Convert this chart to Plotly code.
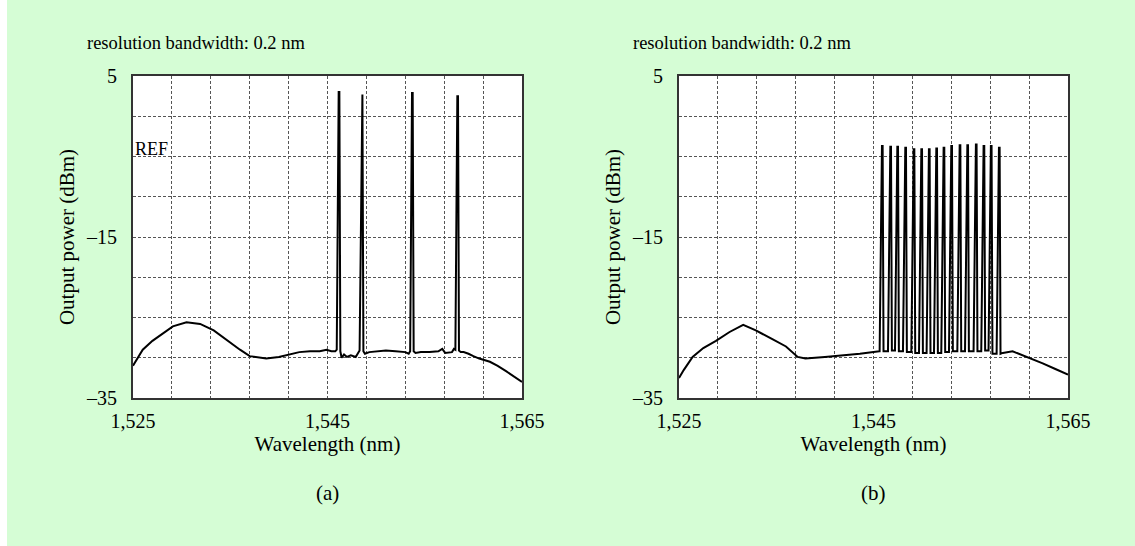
import plotly.graph_objects as go

# ---------------- data ----------------
# (a) four-channel spectrum
wl_a = [1525.0, 1525.5, 1526.0, 1527.0, 1527.8, 1529.1, 1530.5, 1531.9, 1533.3, 1534.6,
        1536.0, 1537.0, 1538.7, 1540.0, 1540.8, 1542.1, 1543.2, 1544.2, 1544.9, 1545.4,
        1545.8, 1545.95, 1546.15, 1546.22, 1546.32, 1546.45, 1546.7, 1547.0, 1547.4, 1547.9,
        1548.3, 1548.52, 1548.59, 1548.69, 1548.85, 1549.3, 1550.0, 1551.0, 1552.0, 1553.0,
        1553.35, 1553.5, 1553.69, 1553.76, 1553.86, 1554.05, 1554.6, 1555.5, 1556.4, 1556.8,
        1557.1, 1557.8, 1558.0, 1558.15, 1558.35, 1558.42, 1558.52, 1558.7, 1559.0, 1559.5,
        1560.0, 1560.6, 1561.7, 1562.5, 1563.4, 1564.2, 1565.0]
db_a = [-31.0, -30.0, -29.0, -27.9, -27.2, -26.1, -25.6, -25.8, -26.6, -27.8,
        -29.0, -29.8, -30.1, -29.9, -29.7, -29.3, -29.2, -29.2, -29.0, -29.2,
        -29.2, -29.0, 3.0, 3.0, -29.2, -30.0, -29.6, -29.9, -29.7, -29.9,
        -29.1, 2.7, 2.7, -29.2, -29.5, -29.3, -29.2, -29.1, -29.2, -29.3,
        -29.5, -29.2, 2.9, 2.9, -29.2, -29.4, -29.3, -29.3, -29.2, -28.9,
        -29.4, -29.3, -28.9, -29.0, 2.5, 2.5, -29.1, -29.3, -29.3, -29.5,
        -29.8, -30.1, -30.5, -31.0, -31.7, -32.4, -33.0]

# (b) ASE part before and after the 16 channels
ase_b_left_wl = [1525.0, 1525.5, 1526.4, 1527.5, 1528.8, 1530.2, 1531.6, 1532.9, 1534.6,
                 1536.0, 1537.2, 1538.0, 1540.0, 1542.0, 1543.6, 1545.6]
ase_b_left_db = [-32.5, -31.5, -29.9, -28.8, -27.9, -26.8, -25.9, -26.6, -27.7,
                 -28.6, -29.9, -30.1, -29.9, -29.7, -29.5, -29.2]
ch_b_wl = [1545.87, 1546.73, 1547.45, 1548.27, 1549.13, 1549.92, 1550.70, 1551.46,
           1552.21, 1553.00, 1553.86, 1554.65, 1555.53, 1556.32, 1557.07, 1557.90]
ch_b_peak = [-3.7, -3.8, -3.8, -3.9, -4.1, -4.1, -4.1, -4.0,
             -3.9, -3.7, -3.6, -3.6, -3.5, -3.7, -3.7, -3.9]
ch_b_floor = [-29.2, -29.1, -29.2, -29.3, -29.4, -29.4, -29.4, -29.4,
              -29.3, -29.2, -29.2, -29.2, -29.2, -29.1, -29.5, -29.5]
ase_b_right_wl = [1558.3, 1559.3, 1560.4, 1561.4, 1562.4, 1563.7, 1565.0]
ase_b_right_db = [-29.4, -29.2, -29.7, -30.2, -30.7, -31.4, -32.1]

x_tickvals = [1525, 1545, 1565]
x_ticktext = ["1,525", "1,545", "1,565"]
y_tickvals = [-35, -15, 5]
y_ticktext = ["\u201335", "\u201315", "5"]

# ---------------- build (b) polyline ----------------
RISE, TOP, FALL = 0.24, 0.07, 0.16  # line-shape of a channel (style)
wl_b = list(ase_b_left_wl)
db_b = list(ase_b_left_db)
for c, p, f in zip(ch_b_wl, ch_b_peak, ch_b_floor):
    wl_b += [c - RISE, c, c + TOP, c + FALL]
    db_b += [db_b[-1], p, p, f]
wl_b += ase_b_right_wl
db_b += ase_b_right_db

W, H = 1135, 546
BG = "#d5fdd5"
FONT = "Liberation Serif"

def px_x(p):
    return p / W

def px_y(p):
    return 1 - p / H

fig = go.Figure()
fig.add_trace(go.Scatter(x=wl_a, y=db_a, mode="lines", xaxis="x", yaxis="y",
                         line=dict(color="black", width=2), showlegend=False))
fig.add_trace(go.Scatter(x=wl_b, y=db_b, mode="lines", xaxis="x2", yaxis="y2",
                         line=dict(color="black", width=2), showlegend=False))

def xaxis(domain, anchor):
    return dict(domain=domain, anchor=anchor, range=[1525, 1565], automargin=False,
                tickvals=x_tickvals, ticktext=x_ticktext, ticks="",
                ticklabelstandoff=4,
                showgrid=False, zeroline=False,
                showline=True, mirror=True, linecolor="#333", linewidth=2,
                minor=dict(dtick=4, tick0=1525, showgrid=True, gridcolor="#555",
                           griddash="3px,2px", gridwidth=1),
                tickfont=dict(family=FONT, size=20, color="black"),
                title=dict(text="Wavelength (nm)", standoff=2,
                           font=dict(family=FONT, size=21, color="black")))

def yaxis(domain, anchor):
    return dict(domain=domain, anchor=anchor, range=[-35, 5], automargin=False,
                tickvals=y_tickvals, ticktext=y_ticktext, ticks="",
                ticklabelstandoff=10,
                showgrid=False, zeroline=False,
                showline=True, mirror=True, linecolor="#333", linewidth=2,
                minor=dict(dtick=5, tick0=-35, showgrid=True, gridcolor="#555",
                           griddash="3px,2px", gridwidth=1),
                tickfont=dict(family=FONT, size=20, color="black"),
                title=dict(text="Output power (dBm)", standoff=6,
                           font=dict(family=FONT, size=21, color="black")))

ydom = [px_y(398), px_y(76)]
fig.update_layout(
    width=W, height=H,
    margin=dict(l=0, r=0, t=0, b=0, autoexpand=False),
    paper_bgcolor=BG, plot_bgcolor="white",
    xaxis=xaxis([px_x(133), px_x(522)], "y"),
    yaxis=yaxis(ydom, "x"),
    xaxis2=xaxis([px_x(679), px_x(1068)], "y2"),
    yaxis2=yaxis(ydom, "x2"),
    shapes=[dict(type="rect", xref="paper", yref="paper", x0=0, x1=px_x(7), y0=0, y1=1,
                 fillcolor="white", line=dict(width=0), layer="below")],
)

ann_font = dict(family=FONT, size=18.5, color="black")
for xl in (85, 631):
    fig.add_annotation(xref="paper", yref="paper", x=px_x(xl), y=px_y(43),
                       xanchor="left", yanchor="middle", showarrow=False,
                       text="resolution bandwidth: 0.2 nm", font=ann_font)
for xc, lab in ((327.5, "(a)"), (873.5, "(b)")):
    fig.add_annotation(xref="paper", yref="paper", x=px_x(xc), y=px_y(493),
                       xanchor="center", yanchor="middle", showarrow=False,
                       text=lab, font=dict(family=FONT, size=21, color="black"))
fig.add_annotation(xref="x", yref="y", x=1525, y=-5, xanchor="left", yanchor="bottom",
                   showarrow=False, text="REF", xshift=0, yshift=-5,
                   font=dict(family=FONT, size=18, color="black"))

fig.write_html("out.html")
